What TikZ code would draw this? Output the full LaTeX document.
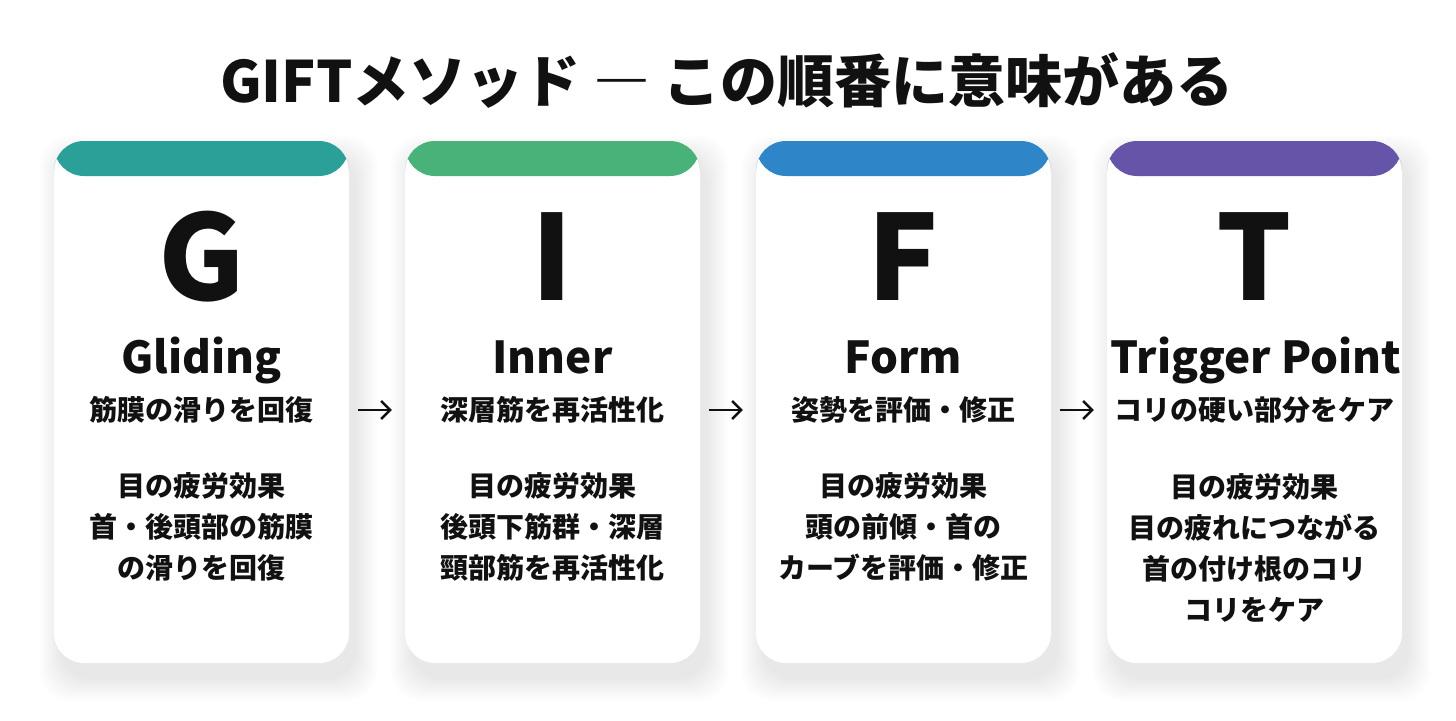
\documentclass[tikz,border=0pt]{standalone}
\usepackage{fontspec}
\setmainfont{Noto Sans CJK JP}
\usetikzlibrary{arrows.meta}
\definecolor{cTeal}{RGB}{43,160,152}
\definecolor{cGreen}{RGB}{72,178,120}
\definecolor{cBlue}{RGB}{46,134,200}
\definecolor{cPurple}{RGB}{102,84,168}
\definecolor{ink}{RGB}{17,17,17}
\begin{document}
\begin{tikzpicture}[x=1pt,y=-1pt,
  card/.style={draw=none, fill=white, rounded corners=30pt, inner sep=0pt,
    minimum width=295pt, minimum height=522pt,
    path picture={\fill[#1] (path picture bounding box.north west) rectangle ([yshift=-35pt]path picture bounding box.north east);}},
  bigletter/.style={anchor=base, inner sep=0pt, text=ink, font=\fontsize{118}{118}\selectfont\bfseries},
  word/.style={anchor=base, inner sep=0pt, text=ink, font=\fontsize{44}{44}\selectfont\bfseries},
  subline/.style={inner sep=0pt, text=ink, font=\fontsize{28}{28}\selectfont\bfseries},
  bodytext/.style={inner sep=0pt, text=ink, align=center, font=\fontsize{28}{41}\selectfont\bfseries},
  titletext/.style={inner sep=0pt, text=ink, font=\fontsize{57}{57}\selectfont\bfseries},
  flow/.style={draw=ink, line width=2.4pt, -{Straight Barb[length=9pt,width=18pt]}, shorten <=9pt, shorten >=13pt}
]
\useasboundingbox[fill=white] (0,0) rectangle (1456,720);

% soft shadows
\foreach \cx in {201.5,552.5,903.5,1254.5}{
  \foreach \i in {0,...,22}{
    \fill[black, opacity=0.0055, rounded corners=30pt]
      (\cx-147.5-\i+7, 141-\i+16) rectangle (\cx+147.5+\i+7, 663+\i+16);
  }
}

\node[titletext] (title) at (727,80) {GIFTメソッド ― この順番に意味がある};

\node[card=cTeal]   (c1) at (201.5,402) {};
\node[card=cGreen]  (c2) at (552.5,402) {};
\node[card=cBlue]   (c3) at (903.5,402) {};
\node[card=cPurple] (c4) at (1254.5,402) {};

\node[bigletter] (g1) at (201.5,300) {G};
\node[bigletter] (g2) at (552.5,300) {I};
\node[bigletter] (g3) at (903.5,300) {F};
\node[bigletter] (g4) at (1254.5,300) {T};

\node[word] (w1) at (201.5,373) {Gliding};
\node[word] (w2) at (552.5,373) {Inner};
\node[word] (w3) at (903.5,373) {Form};
\node[word] (w4) at (1256,373) {Trigger Point};

\node[subline] (s1) at (201.5,410) {筋膜の滑りを回復};
\node[subline] (s2) at (552.5,410) {深層筋を再活性化};
\node[subline] (s3) at (903.5,410) {姿勢を評価・修正};
\node[subline] (s4) at (1254.5,410) {コリの硬い部分をケア};

\node[bodytext] (b1) at (201.5,527) {目の疲労効果\\首・後頭部の筋膜\\の滑りを回復};
\node[bodytext] (b2) at (552.5,527) {目の疲労効果\\後頭下筋群・深層\\頸部筋を再活性化};
\node[bodytext] (b3) at (903.5,527) {目の疲労効果\\頭の前傾・首の\\カーブを評価・修正};
\node[bodytext] (b4) at (1254.5,547.5) {目の疲労効果\\目の疲れにつながる\\首の付け根のコリ\\コリをケア};

\draw[flow] ([yshift=-8pt]c1.east) -- ([yshift=-8pt]c2.west);
\draw[flow] ([yshift=-8pt]c2.east) -- ([yshift=-8pt]c3.west);
\draw[flow] ([yshift=-8pt]c3.east) -- ([yshift=-8pt]c4.west);
\end{tikzpicture}
\end{document}
